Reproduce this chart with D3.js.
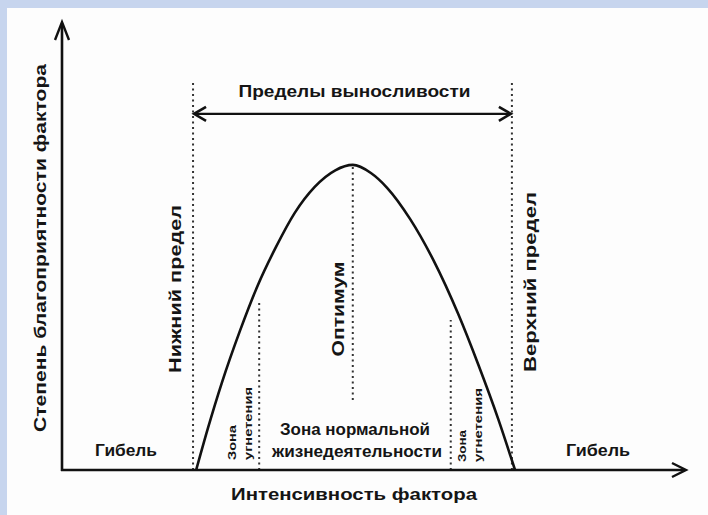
<!DOCTYPE html>
<html><head><meta charset="utf-8">
<script src="https://cdn.jsdelivr.net/npm/d3@7"></script>
<style>
html,body{margin:0;padding:0;background:#fff;}
svg{display:block;}
text{font-family:"Liberation Sans Narrow","Liberation Sans",Arial,sans-serif;fill:#151515;font-weight:bold;}
</style></head>
<body>
<svg id="chart" width="708" height="515"></svg>
<script>
// ---- data (intensity 0..100, favourability 0..100) ----
const curveX = [21.5, 23.4, 25.6, 28.5, 31.4, 34.3, 37.3, 40.5, 43.8, 46.6, 49.5, 52.1, 55.8, 59.5, 63.5, 66.8, 69.9, 72.6];
const curveY = [0, 9.4, 19.4, 31.0, 41.3, 49.8, 57.4, 63.2, 66.9, 68.1, 66.3, 63.0, 56.0, 46.9, 34.8, 23.2, 11.4, 0];
const limitX = [21.0, 72.1];          // lower / upper tolerance limits
const optimumX = 46.6;
const zoneX = [31.6, 62.3];           // boundaries of depression zones
const zoneTop = [37.9, 33.5];
const limitTop = 86.6;
const optimumRange = [68.1, 15.6];
const endurY = 79.5;

const labelTitle = "Пределы выносливости";
const labelXAxis = "Интенсивность фактора";
const labelYAxis = "Степень благоприятности фактора";
const labelLower = "Нижний предел";
const labelUpper = "Верхний предел";
const labelOptimum = "Оптимум";
const labelDeath = "Гибель";
const labelNormal = ["Зона нормальной", "жизнедеятельности"];
const labelDepress = ["Зона", "угнетения"];

const svg = d3.select("#chart");
const x = d3.scaleLinear().domain([0, 100]).range([62, 686]);
const y = d3.scaleLinear().domain([0, 100]).range([470, 22]);

// background with light-blue frame
svg.append("rect").attr("width", 708).attr("height", 515).attr("fill", "#c7d5ee");
svg.append("rect").attr("x", 7).attr("y", 8).attr("width", 701).attr("height", 507).attr("fill", "#fdfdfd");

const ink = "#111";

// dotted verticals
function dotted(xv, y0, y1) {
  svg.append("line").attr("x1", x(xv)).attr("x2", x(xv)).attr("y1", y(y0)).attr("y2", y(y1))
    .attr("stroke", "#333").attr("stroke-width", 2).attr("stroke-dasharray", "2,3.5");
}
limitX.forEach(v => dotted(v, 0, limitTop));
dotted(optimumX, optimumRange[1], optimumRange[0]);
zoneX.forEach((v, i) => dotted(v, 0, zoneTop[i]));

// axes
svg.append("line").attr("x1", x(0)).attr("x2", x(0)).attr("y1", y(0) + 1).attr("y2", y(100) + 2)
  .attr("stroke", ink).attr("stroke-width", 2.6);
svg.append("line").attr("x1", x(0) - 1).attr("x2", x(100) - 1).attr("y1", y(0)).attr("y2", y(0))
  .attr("stroke", ink).attr("stroke-width", 2.6);
// arrowheads
svg.append("path").attr("d", `M${x(0)-7},${y(100)+18} L${x(0)},${y(100)} L${x(0)+7},${y(100)+18}`)
  .attr("fill", "none").attr("stroke", ink).attr("stroke-width", 2.4);
svg.append("path").attr("d", `M${x(100)-14},${y(0)-7} L${x(100)},${y(0)} L${x(100)-14},${y(0)+7}`)
  .attr("fill", "none").attr("stroke", ink).attr("stroke-width", 2.4);

// endurance double arrow
const ey = y(endurY);
svg.append("line").attr("x1", x(limitX[0]) + 2).attr("x2", x(limitX[1]) - 2).attr("y1", ey).attr("y2", ey)
  .attr("stroke", ink).attr("stroke-width", 2.2);
svg.append("path").attr("d", `M${x(limitX[0])+13},${ey-7} L${x(limitX[0])+1},${ey} L${x(limitX[0])+13},${ey+7}`)
  .attr("fill", "none").attr("stroke", ink).attr("stroke-width", 2.6);
svg.append("path").attr("d", `M${x(limitX[1])-13},${ey-7} L${x(limitX[1])-1},${ey} L${x(limitX[1])-13},${ey+7}`)
  .attr("fill", "none").attr("stroke", ink).attr("stroke-width", 2.6);

// curve
const pts = curveX.map((v, i) => [v, curveY[i]]);
const line = d3.line().x(d => x(d[0])).y(d => y(d[1])).curve(d3.curveMonotoneX);
svg.append("path").datum(pts).attr("d", line).attr("fill", "none")
  .attr("stroke", ink).attr("stroke-width", 2.6).attr("stroke-linejoin", "round");

// text helpers
function htext(str, cx, cy, size, len) {
  svg.append("text").attr("x", cx).attr("y", cy).attr("text-anchor", "middle")
    .attr("dominant-baseline", "central").attr("font-size", size)
    .attr("textLength", len).attr("lengthAdjust", "spacingAndGlyphs").text(str);
}
function vtext(str, cx, cy, size, len, anchor) {
  svg.append("text").attr("transform", `translate(${cx},${cy}) rotate(-90)`)
    .attr("text-anchor", anchor || "middle").attr("dominant-baseline", "central")
    .attr("font-size", size).attr("textLength", len).attr("lengthAdjust", "spacingAndGlyphs").text(str);
}

htext(labelTitle, (x(limitX[0]) + x(limitX[1])) / 2 + 2, 91, 17, 232);
htext(labelXAxis, 354, 494, 17, 246);
vtext(labelYAxis, 40, 248, 17, 368);
vtext(labelLower, 175, 289, 17, 168);
vtext(labelUpper, 530, 282, 17, 180);
vtext(labelOptimum, 338, 309, 17, 95);
htext(labelDeath, 126, 450, 16, 62);
htext(labelDeath, 598, 450, 16, 64);
htext(labelNormal[0], 355, 429, 16, 150);
htext(labelNormal[1], 357, 451, 16, 170);
// depression zones (small rotated labels)
vtext(labelDepress[0], 232, 460, 10, 35, "start");
vtext(labelDepress[1], 248, 460, 10, 73, "start");
vtext(labelDepress[0], 462, 462, 10, 32, "start");
vtext(labelDepress[1], 478, 462, 10, 74, "start");
</script>
</body></html>
